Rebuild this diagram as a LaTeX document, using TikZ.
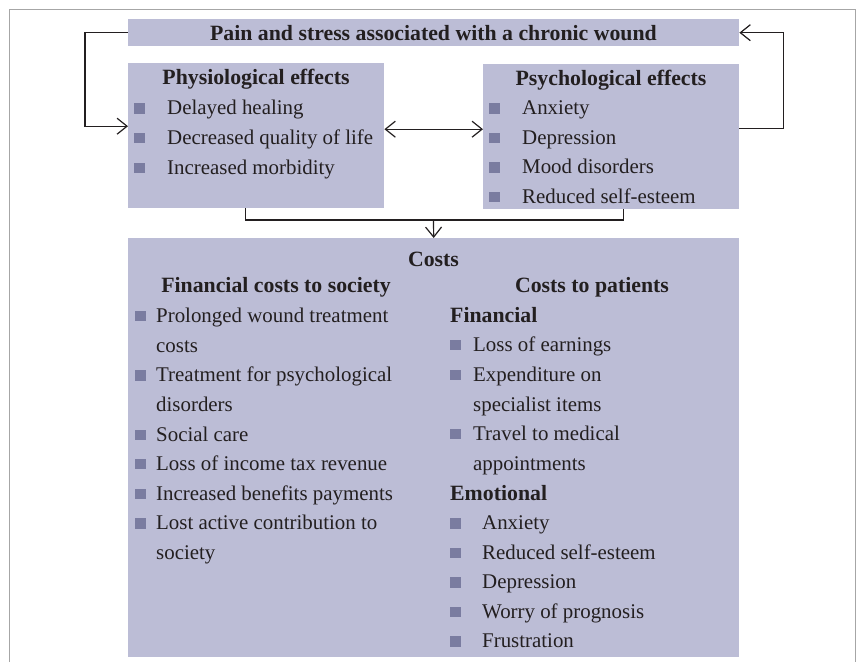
\documentclass[tikz,border=0pt]{standalone}
\usepackage{fontspec}
\setmainfont{Liberation Serif}
\usetikzlibrary{arrows.meta}
\definecolor{boxfill}{RGB}{188,189,214}
\definecolor{bulfill}{RGB}{122,124,160}
\definecolor{ink}{RGB}{35,31,32}
\newcommand{\bul}{\textcolor{bulfill}{\rule[1pt]{10.5pt}{10.5pt}}}
\tikzset{
  panel/.style={fill=boxfill, inner sep=0pt, anchor=north west},
  txt/.style={inner sep=0pt, anchor=base west, text=ink, font=\fontsize{20.9}{24}\selectfont},
  hd/.style={txt, anchor=base, font=\fontsize{21.8}{24}\selectfont\bfseries},
  sub/.style={txt, font=\fontsize{21.8}{24}\selectfont\bfseries},
  link/.style={line width=1.2pt, draw=ink}
}
\begin{document}
\begin{tikzpicture}[x=1pt, y=-1pt, >={Straight Barb[length=10pt,width=16pt]}]
\useasboundingbox (0,0) rectangle (860,662);
\draw[gray!70, line width=1pt] (9,662)--(9,9)--(855,9)--(855,662);

% boxes
\node[panel, minimum width=611pt, minimum height=27pt] (pain) at (128,19) {};
\node[panel, minimum width=256pt, minimum height=145pt] (phys) at (128,63) {};
\node[panel, minimum width=256pt, minimum height=145pt] (psych) at (483,64) {};
\node[panel, minimum width=611pt, minimum height=419pt] (costs) at (128,238) {};

\node[hd] (paintxt) at (433.5,40) {Pain and stress associated with a chronic wound};

% effects
\node[hd] (physhd) at (256,84) {Physiological effects};
\foreach \t [count=\i] in {Delayed healing, Decreased quality of life, Increased morbidity}
  \node[txt] (phys\i) at (134,{85+29.7*\i}) {\bul\hspace{22.5pt}\t};
\node[hd] (psychhd) at (611,85) {Psychological effects};
\foreach \t [count=\i] in {Anxiety, Depression, Mood disorders, Reduced self-esteem}
  \node[txt] (psych\i) at (489,{85+29.6*\i}) {\bul\hspace{22.5pt}\t};

% costs
\node[hd] (costshd) at (433.5,266.5) {Costs};
\node[hd] (sochd) at (276,292) {Financial costs to society};
\node[txt] (soc1) at (135,322) {\bul\hspace{10.5pt}Prolonged wound treatment};
\node[txt] (soc1b) at (156,352) {costs};
\node[txt] (soc2) at (135,381.5) {\bul\hspace{10.5pt}Treatment for psychological};
\node[txt] (soc2b) at (156,411) {disorders};
\node[txt] (soc3) at (135,441) {\bul\hspace{10.5pt}Social care};
\node[txt] (soc4) at (135,470) {\bul\hspace{10.5pt}Loss of income tax revenue};
\node[txt] (soc5) at (135,500) {\bul\hspace{10.5pt}Increased benefits payments};
\node[txt] (soc6) at (135,529.5) {\bul\hspace{10.5pt}Lost active contribution to};
\node[txt] (soc6b) at (156,559) {society};

\node[hd] (pathd) at (592,292) {Costs to patients};
\node[sub] (fin) at (450,322) {Financial};
\node[txt] (fin1) at (450,351) {\bul\hspace{12.5pt}Loss of earnings};
\node[txt] (fin2) at (450,381) {\bul\hspace{12.5pt}Expenditure on};
\node[txt] (fin2b) at (473,411) {specialist items};
\node[txt] (fin3) at (450,440) {\bul\hspace{12.5pt}Travel to medical};
\node[txt] (fin3b) at (473,470) {appointments};
\node[sub] (emo) at (450,500) {Emotional};
\foreach \t [count=\i] in {Anxiety, Reduced self-esteem, Depression, Worry of prognosis, Frustration}
  \node[txt] (emo\i) at (450,{500+29.5*\i}) {\bul\hspace{21.5pt}\t};

% connectors
\draw[link,->] (pain.west) -- ++(-43,0) |- ([yshift=9.5pt]phys.west);
\draw[link,->] ([yshift=8.5pt]psych.east) -- ++(44,0) |- (pain.east);
\draw[link,<->] ([yshift=6.5pt]phys.east) -- ([yshift=6.5pt]phys.east -| psych.west);
\coordinate (join) at (433.5,220);
\draw[link] ([xshift=-11pt]phys.south) |- (join) -| ([xshift=12pt]psych.south);
\draw[link,->] (join) -- (costs.north);
\end{tikzpicture}
\end{document}
